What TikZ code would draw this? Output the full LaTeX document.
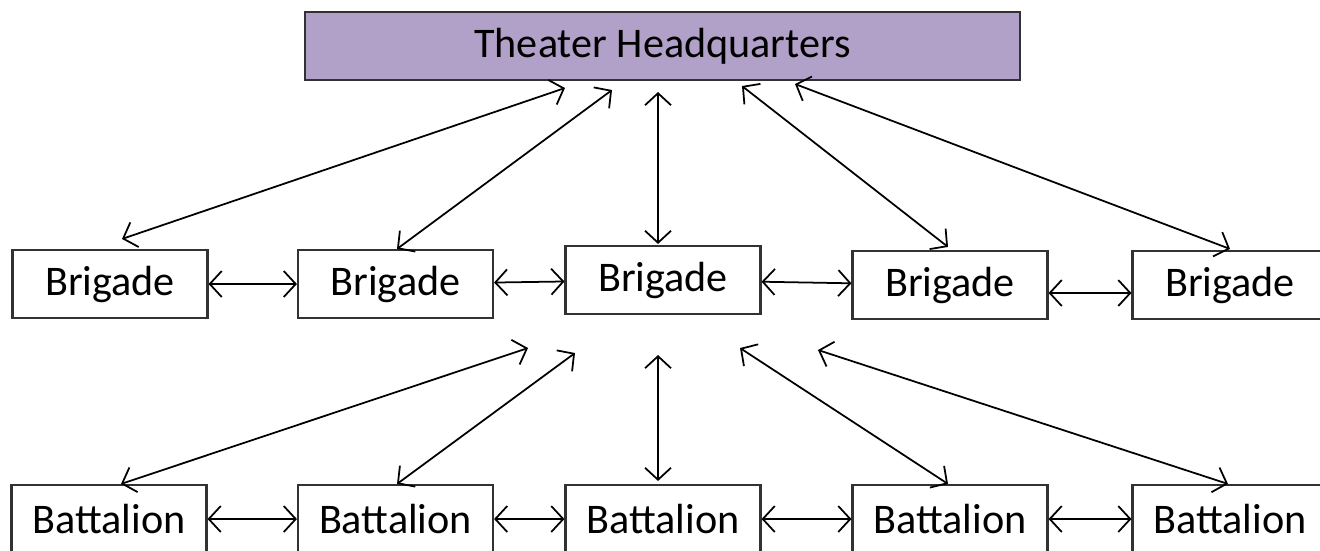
\documentclass[tikz,border=0pt]{standalone}
\usepackage{fontspec}
\setmainfont{Carlito}
\usetikzlibrary{arrows.meta}
\definecolor{hqfill}{RGB}{177,160,199}
\definecolor{boxline}{RGB}{50,50,50}

\begin{document}
\begin{tikzpicture}[
    unit/.style={draw=boxline, line width=0.6pt, minimum width=1.95cm, minimum height=0.68cm,
      inner sep=0, font=\fontsize{12}{14}\selectfont},
    headq/.style={unit, fill=hqfill, minimum width=7.15cm},
    link/.style={line width=0.5pt, {Straight Barb[length=1.2mm,width=2.6mm]}-{Straight Barb[length=1.2mm,width=2.6mm]}}
  ]
  \useasboundingbox (0,0) rectangle (13.2,5.5);
  \node[headq] (hq) at (6.625,5.04) {Theater Headquarters};

  \node[unit] (b1) at (1.10,2.66) {Brigade};
  \node[unit] (b2) at (3.955,2.66) {Brigade}
    edge [link] (b1);
  \node[unit] (b3) at (6.63,2.70) {Brigade}
    edge [link] (b2);
  \node[unit] (b4) at (9.50,2.65) {Brigade}
    edge [link] (b3);
  \node[unit] (b5) at (12.30,2.65) {Brigade};
  \draw[link] ([yshift=-0.08cm]b4.east) -- ([yshift=-0.08cm]b5.west);

  \node[unit] (t1) at (1.09,0.31) {Battalion};
  \node[unit] (t2) at (3.955,0.31) {Battalion}
    edge [link] (t1);
  \node[unit] (t3) at (6.63,0.31) {Battalion}
    edge [link] (t2);
  \node[unit] (t4) at (9.50,0.31) {Battalion}
    edge [link] (t3);
  \node[unit] (t5) at (12.30,0.31) {Battalion}
    edge [link] (t4);

  % free ends under the headquarters
  \coordinate (u1) at (5.65,4.62);
  \coordinate (u2) at (6.12,4.60);
  \coordinate (u3) at (6.58,4.58);
  \coordinate (u4) at (7.42,4.64);
  \coordinate (u5) at (7.95,4.66);
  \draw[link] (u1) -- ([shift={(0.12,0.10)}]b1.north);
  \draw[link] (u2) -- ([shift={(0.015,0)}]b2.north);
  \draw[link] (u3) -- ([shift={(-0.05,0.01)}]b3.north);
  \draw[link] (u4) -- ([shift={(-0.02,0.03)}]b4.north);
  \draw[link] (u5) -- ([shift={(0,0.01)}]b5.north);

  % free ends under the brigades
  \coordinate (l1) at (5.28,2.02);
  \coordinate (l2) at (5.75,1.97);
  \coordinate (l3) at (6.58,1.95);
  \coordinate (l4) at (7.40,2.02);
  \coordinate (l5) at (8.18,2.00);
  \draw[link] (l1) -- ([shift={(0.12,0)}]t1.north);
  \draw[link] (l2) -- ([shift={(0.015,0)}]t2.north);
  \draw[link] (l3) -- ([shift={(-0.05,0.03)}]t3.north);
  \draw[link] (l4) -- ([shift={(-0.02,0)}]t4.north);
  \draw[link] (l5) -- ([shift={(-0.02,0)}]t5.north);
\end{tikzpicture}
\end{document}
